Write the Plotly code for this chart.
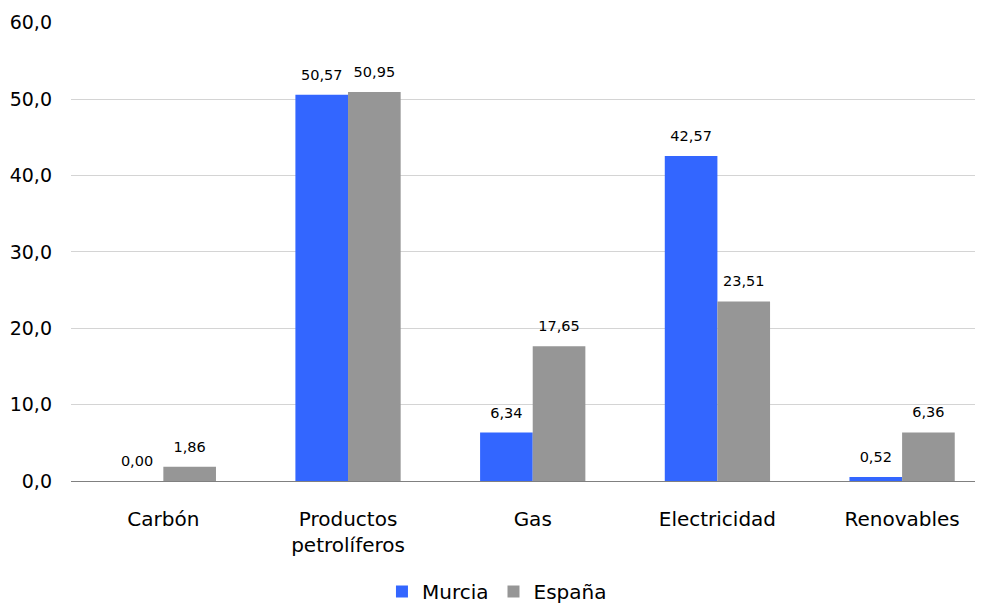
import plotly.graph_objects as go

categories = ["Carbón", "Productos<br>petrolíferos", "Gas", "Electricidad", "Renovables"]
murcia = [0.00, 50.57, 6.34, 42.57, 0.52]
espana = [1.86, 50.95, 17.65, 23.51, 6.36]
y_ticks = [0, 10, 20, 30, 40, 50, 60]

FONT = "DejaVu Sans"
PAD = "<sub><span style='font-size:38px'>\u00a0</span></sub>"
LABEL_TPL = PAD + "%{y:.2f}" + PAD

fig = go.Figure()
fig.add_trace(go.Bar(x=categories, y=murcia, name="Murcia", marker_color="#3366FF",
                     marker_line_width=0, constraintext="none",
                     texttemplate=LABEL_TPL, textposition="outside",
                     textfont=dict(size=14.5, color="#000000", family=FONT), cliponaxis=False))
fig.add_trace(go.Bar(x=categories, y=espana, name="España", marker_color="#969696",
                     marker_line_width=0, constraintext="none",
                     texttemplate=LABEL_TPL, textposition="outside",
                     textfont=dict(size=14.5, color="#000000", family=FONT), cliponaxis=False))

fig.update_layout(
    width=987, height=603,
    margin=dict(l=63, r=0, t=14, b=124),
    barmode="group", bargap=0.43, bargroupgap=0,
    separators=",.",
    plot_bgcolor="white", paper_bgcolor="white",
    font=dict(family=FONT, size=19, color="#000000"),
    showlegend=True,
    legend=dict(orientation="h", x=0.461, xanchor="center", y=-0.241, yanchor="middle",
                font=dict(size=20, family=FONT), itemwidth=30, traceorder="normal",
                tracegroupgap=0),
    xaxis=dict(range=[-0.5, 4.503], showline=True, linecolor="#808080", linewidth=1,
               ticks="", tickfont=dict(size=20, family=FONT), ticklabelstandoff=20,
               automargin=False),
    yaxis=dict(range=[0, 60.1], tickvals=y_ticks, tickformat=".1f", showgrid=True,
               gridcolor="#d4d4d4", gridwidth=1, zeroline=False, showline=False,
               ticks="", tickfont=dict(size=19, family=FONT), ticklabelstandoff=18,
               automargin=False),
)

fig.write_html("out.html")
